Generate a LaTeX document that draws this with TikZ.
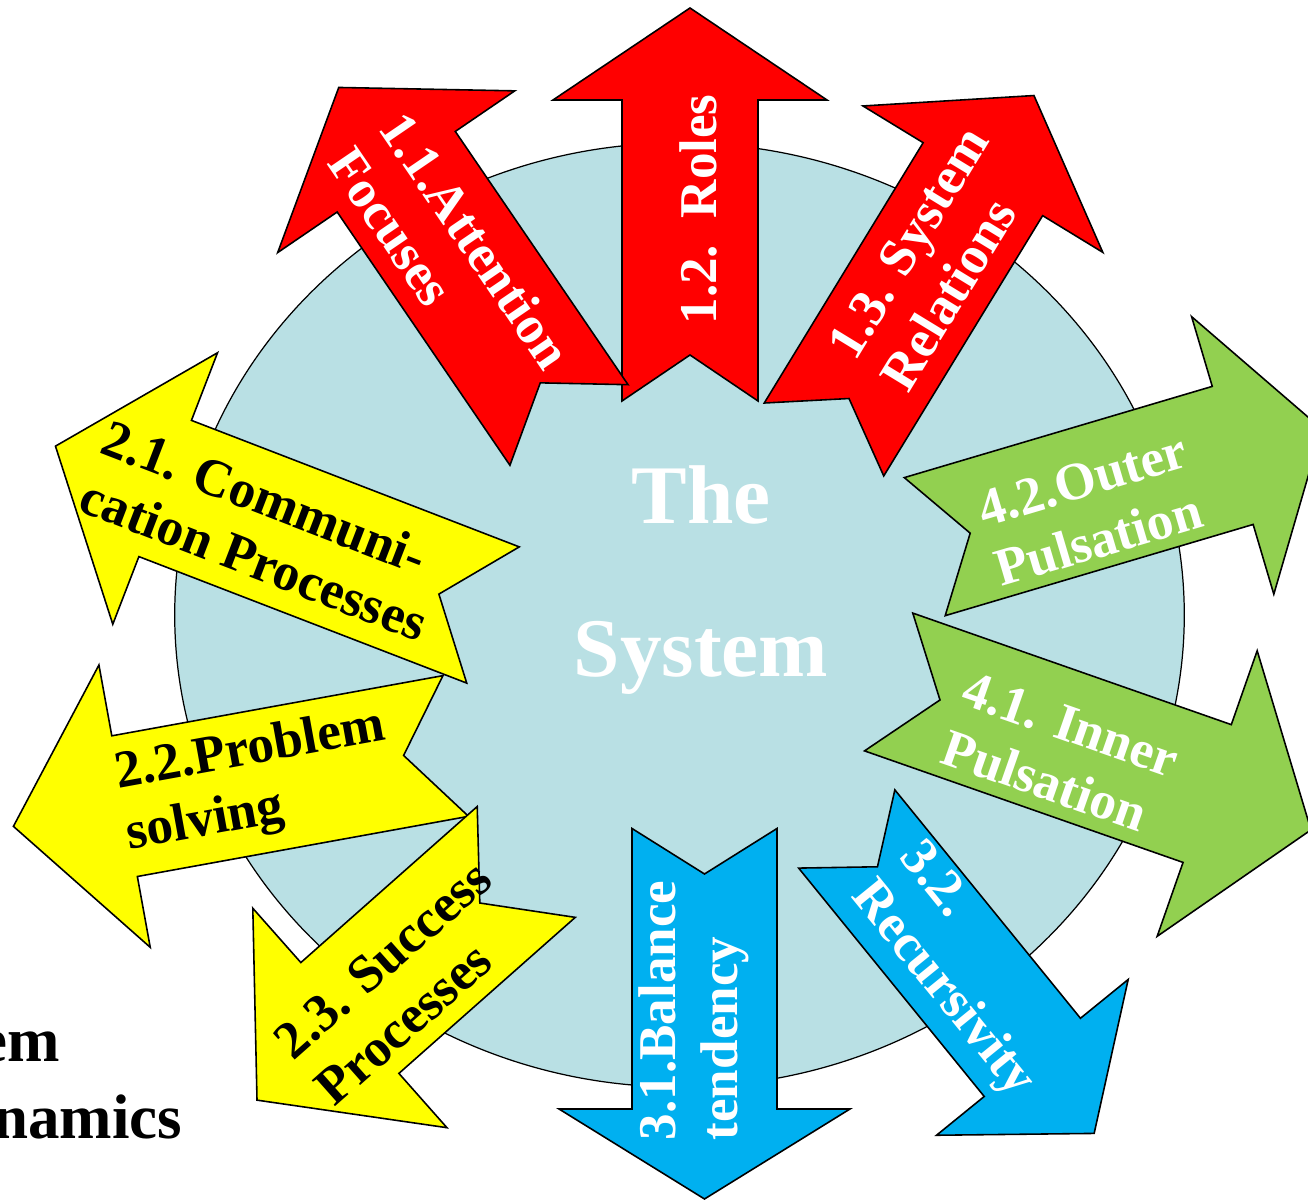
\documentclass[tikz,border=0pt]{standalone}
\usepackage{fontspec}
\setmainfont{Liberation Serif}
\usepackage{tikz}
\definecolor{sysred}{RGB}{255,0,0}
\definecolor{sysyellow}{RGB}{255,255,0}
\definecolor{sysblue}{RGB}{0,176,240}
\definecolor{sysgreen}{RGB}{146,208,80}
\definecolor{syscircle}{RGB}{185,224,228}

\begin{document}
\begin{tikzpicture}[x=0.01cm, y=-0.01cm,
		arrowbox/.style={draw=black, line width=0.45pt, line join=miter},
		arrowtext/.style={align=left, inner sep=0pt, text=white, font=\bfseries\fontsize{15.1pt}{17.6pt}\selectfont},
		darktext/.style={arrowtext, text=black},
		bigtext/.style={align=center, inner sep=0pt, text=white, font=\bfseries\fontsize{23.7pt}{43.6pt}\selectfont},
		sidetext/.style={anchor=base east, inner sep=0pt, font=\bfseries\fontsize{17.9pt}{21pt}\selectfont}
		]
		\useasboundingbox (0,0) rectangle (1308,1201);
		
		\draw[fill=syscircle, line width=0.35pt] (679.5,615) ellipse [x radius=5.045cm, y radius=4.718cm];
		\node[bigtext] (sys) at (701,580) {The\\System};
		
		% notched arrows: tail middle, angle, length, shaft, head width, head length, notch
		\foreach \aname/\ax/\ay/\aangle/\alen/\ashaft/\ahead/\aheadlen/\anotch/\afill in {
			roles/690/401/90/393/136/274/92/46/sysred,
			attention/569/425/124.3/408.6/143/287/102/51/sysred,
			relations/824/439.5/58.6/403/140/281/98/48/sysred,
			communication/493/615/158.9/469/146/291/117.6/58/sysyellow,
			problem/455.75/746/190.3/449.6/143/287/113/53/sysyellow,
			success/526.25/861.95/221.5/359.5/148/293/124/62/sysyellow,
			balance/704.5/828.5/-90/370.5/145/291/90/45.5/sysblue,
			recursivity/846.75/829/-50.9/392.3/124/247/98/48.7/sysblue,
			innerpuls/888.65/682/-19.3/447.5/146/302.6/110/54.4/sysgreen,
			outerpuls/924.75/546.65/16.5/414.2/144/289.5/93/47.4/sysgreen%
		}{
			\filldraw[arrowbox, fill=\afill, shift={(\ax,\ay)}, rotate=\aangle]
				(0,\ashaft/2) -- (\alen-\aheadlen,\ashaft/2) -- (\alen-\aheadlen,\ahead/2) -- (\alen,0)
				-- (\alen-\aheadlen,-\ahead/2) -- (\alen-\aheadlen,-\ashaft/2) -- (0,-\ashaft/2) -- (\anotch,0) -- cycle;
		}
		
		\node[arrowtext, rotate=90] (roles) at (698.8,209.4) {1.2.\ \ Roles};
		\node[arrowtext, rotate=-55.7] (attention) at (450.2,257.9) {1.1.Attention\\Focuses};
		\node[arrowtext, rotate=58.6] (relations) at (934.5,258.5) {1.3. System\\Relations};
		\node[darktext, rotate=-21.1] (communication) at (265.2,530.3) {2.1. Communi-\\cation Processes};
		\node[darktext, rotate=10.3] (problem) at (256,782.3) {2.2.Problem\\solving};
		\node[darktext, rotate=41.5] (success) at (403.4,982.6) {2.3. Success\\Processes};
		\node[arrowtext, rotate=90] (balance) at (693.5,1010.5) {3.1.Balance\\tendency};
		\node[arrowtext, rotate=-50.9] (recursivity) at (965.7,970.7) {3.2.\\Recursivity};
		\node[arrowtext, rotate=-19.3] (innerpuls) at (1060.5,753.9) {4.1. Inner\\Pulsation};
		\node[arrowtext, rotate=16.5] (outerpuls) at (1091.2,509.9) {4.2.Outer\\Pulsation};
		
		\node[sidetext] (em) at (61,1061.7) {em};
		\node[sidetext] (namics) at (183,1138.3) {namics};
	\end{tikzpicture}
\end{document}
